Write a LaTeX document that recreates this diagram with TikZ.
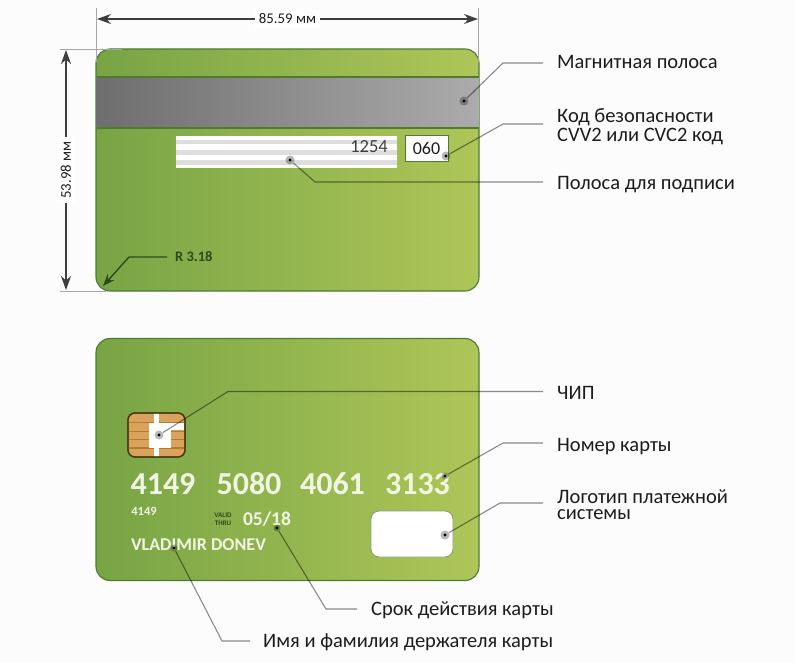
\documentclass[tikz,border=0pt]{standalone}
\usepackage{fontspec}
\setmainfont{Carlito}
\definecolor{cardLeft}{HTML}{78A445}
\definecolor{cardRight}{HTML}{AEC658}
\definecolor{cardEdge}{HTML}{4F7A34}
\definecolor{cardDark}{HTML}{2C4A1C}
\definecolor{stripeLeft}{HTML}{6E6E6E}
\definecolor{stripeRight}{HTML}{ABABAB}
\definecolor{chipFill}{HTML}{D9A35C}
\definecolor{chipLine}{HTML}{B27C38}
\definecolor{chipEdge}{HTML}{4A3A14}
\definecolor{digitWhite}{HTML}{F1F6E2}
\definecolor{labelInk}{HTML}{1C1C1C}
\usepackage{tikz}
\usetikzlibrary{arrows.meta,positioning,calc}

\begin{document}
\begin{tikzpicture}[
    x=1pt, y=-1pt,
    card/.style={draw=cardEdge, line width=1.1pt, rounded corners=14pt,
                 left color=cardLeft, right color=cardRight,
                 minimum width=383pt, minimum height=242pt, inner sep=0pt},
    dimline/.style={{Stealth[length=14pt,width=10pt]}-{Stealth[length=14pt,width=10pt]},
                 line width=1.5pt, draw=labelInk!85},
    dimtext/.style={fill=white, inner sep=4pt, font=\fontsize{14.8}{16}\selectfont, text=labelInk},
    extline/.style={draw=black!35, line width=0.9pt},
    leader/.style={draw=black, draw opacity=.45, line width=1.1pt},
    target/.style={circle, fill=black, fill opacity=.28, minimum size=9pt, inner sep=0pt,
                 path picture={\fill[black, fill opacity=1] (path picture bounding box.center) circle (1.6pt);}},
    callout/.style={anchor=west, align=left, inner xsep=14pt, inner ysep=0pt, text=labelInk,
                 font=\fontsize{20.5}{19}\selectfont},
    digits/.style={text=digitWhite, font=\fontsize{32}{34}\selectfont\bfseries, inner sep=0pt},
    cardtext/.style={text=digitWhite, inner sep=0pt}
  ]
    \useasboundingbox (0,0) rectangle (795,663);
    \fill[white!99!black] (0,0) rectangle (795,663);

    % Back of the card
    \node[card] (back) at (287.5,170) {};
    \fill[left color=stripeLeft, right color=stripeRight] (96.5,77) rectangle (478.5,128);
    \draw[cardEdge, line width=1.1pt] (96.5,77) -- (478.5,77) (96.5,128) -- (478.5,128);
    \node[fill=white, minimum width=221pt, minimum height=32pt, inner sep=0pt] (sign) at (286.5,152) {};
    \fill[black!13] (176,140) rectangle (397,144.5);
    \fill[black!13] (176,150) rectangle (397,155);
    \fill[black!13] (176,160) rectangle (397,165);
    \node[text=labelInk!85, font=\fontsize{18.5}{20}\selectfont, inner sep=0pt] (signnum) at (369,147) {1254};
    \node[draw=cardEdge, fill=white, line width=1pt, minimum width=43pt, minimum height=26pt, inner sep=0pt] (cvvbox) at (427,149) {};
    \node[text=labelInk, font=\fontsize{18}{20}\selectfont, inner sep=0pt] (cvvnum) at (426.5,148) {060};

    % Dimensions
    \coordinate (wtopl) at (96.5,8);
    \coordinate (wtopr) at (478.5,8);
    \coordinate (wbotl) at (96.5,62);
    \coordinate (wbotr) at (478.5,62);
    \coordinate (hl1) at (60,49);
    \coordinate (hr1) at (122,49);
    \coordinate (hl2) at (60,291);
    \coordinate (hr2) at (106,291);
    \draw[extline] (wtopl) -- (wbotl);
    \draw[extline] (wtopr) -- (wbotr);
    \draw[extline] (hl1) -- (hr1);
    \draw[extline] (hl2) -- (hr2);
    \coordinate (widl) at (97,19);
    \coordinate (widr) at (478,19);
    \coordinate (heit) at (66,50);
    \coordinate (heib) at (66,290);
    \draw[dimline] (widl) -- node[dimtext] (width) {85.59 мм} (widr);
    \draw[dimline] (heit) -- node[dimtext, rotate=90] (height) {53.98 мм} (heib);

    % Corner radius
    \node[anchor=west, text=cardDark, font=\fontsize{14.5}{16}\selectfont\bfseries, inner sep=0pt] (radius) at (175,257) {R 3.18};
    \coordinate (radbend) at (129,257);
    \coordinate (radtip) at (103,286);
    \draw[-{Stealth[length=12pt,width=9pt]}, line width=1.4pt, draw=cardDark]
      ($(radius.west)+(-8,0)$) -- (radbend) -- (radtip);

    % Front of the card
    \node[card] (front) at (287.5,459.5) {};
    \node[draw=chipEdge, fill=chipFill, line width=1.3pt, rounded corners=7pt,
          minimum width=57pt, minimum height=44pt, inner sep=0pt] (chip) at (156.5,435) {};
    \begin{scope}
      \clip[rounded corners=6.5pt] (128.6,413.6) rectangle (184.4,456.4);
      \fill[chipLine] (128,421.5) rectangle (185,423);
      \fill[chipLine] (128,430.5) rectangle (185,432);
      \fill[chipLine] (128,438.5) rectangle (185,440);
      \fill[chipLine] (128,447) rectangle (185,448.5);
      \fill[white] (154,413) rectangle (159,457);
      \fill[white] (149,423) rectangle (171,448);
      \fill[white] (149,423) rectangle (185,430);
    \end{scope}
    \draw[draw=chipEdge, line width=1.3pt, rounded corners=7pt] (128,413) rectangle (185,457);

    \node[digits] (num1) at (163,484) {4149};
    \node[digits] (num2) at (249,484) {5080};
    \node[digits] (num3) at (332.5,484) {4061};
    \node[digits] (num4) at (417.5,484) {3133};
    \node[cardtext, font=\fontsize{12.5}{14}\selectfont\bfseries] (shortnum) at (144,511) {4149};
    \node[text=cardDark, align=center, inner sep=0pt, font=\fontsize{7}{8}\selectfont\bfseries] (valid) at (223,519) {VALID\\THRU};
    \node[cardtext, font=\fontsize{19.5}{21}\selectfont\bfseries] (date) at (267,519) {05/18};
    \node[cardtext, font=\fontsize{18}{20}\selectfont\bfseries] (holder) at (198.5,545) {VLADIMIR DONEV};
    \node[draw=cardEdge!70, fill=white, line width=0.9pt, rounded corners=8pt,
          minimum width=82pt, minimum height=46pt, inner sep=0pt] (logo) at (412,534) {};

    % Callouts
    \node[callout] (lmag) at (543,62) {Магнитная полоса};
    \node[callout] (lcvv) at (543,127) {Код безопасности\\CVV2 или CVC2 код};
    \node[callout] (lsign) at (543,185) {Полоса для подписи};
    \node[callout] (lchip) at (543,393) {ЧИП};
    \node[callout] (lnum) at (543,447) {Номер карты};
    \node[callout, font=\fontsize{20.5}{16}\selectfont] (llogo) at (543,505) {Логотип платежной\\системы};
    \node[callout] (ldate) at (357,610) {Срок действия карты};
    \node[callout, inner xsep=13pt] (lname) at (250,642) {Имя и фамилия держателя карты};

    \node[target] (dmag) at (464,101) {};
    \node[target] (dcvv) at (446,156) {};
    \node[target] (dsign) at (290,160) {};
    \node[target] (dchip) at (159,435) {};
    \node[target, minimum size=7pt] (dnum) at (445,476) {};
    \node[target] (dlogo) at (445,535) {};
    \node[target, minimum size=7pt] (ddate) at (277,528) {};
    \node[target, minimum size=7pt] (dname) at (174,548) {};

    \coordinate (bmag) at (503,63);
    \coordinate (bcvv) at (503,124);
    \coordinate (bsign) at (315,182);
    \coordinate (bchip) at (228,391.5);
    \coordinate (bnum) at (503,443);
    \coordinate (blogo) at (500,503);
    \coordinate (bdate) at (326,609);
    \coordinate (bname) at (222,641);

    \draw[leader] (dmag) -- (bmag) -- (bmag -| lmag.west);
    \draw[leader] (dcvv) -- (bcvv) -- (bcvv -| lcvv.west);
    \draw[leader] (dsign) -- (bsign) -- (bsign -| lsign.west);
    \draw[leader] (dchip) -- (bchip) -- (bchip -| lchip.west);
    \draw[leader] (dnum) -- (bnum) -- (bnum -| lnum.west);
    \draw[leader] (dlogo) -- (blogo) -- (blogo -| llogo.west);
    \draw[leader] (ddate) -- (bdate) -- (bdate -| ldate.west);
    \draw[leader] (dname) -- (bname) -- (bname -| lname.west);
  \end{tikzpicture}
\end{document}
